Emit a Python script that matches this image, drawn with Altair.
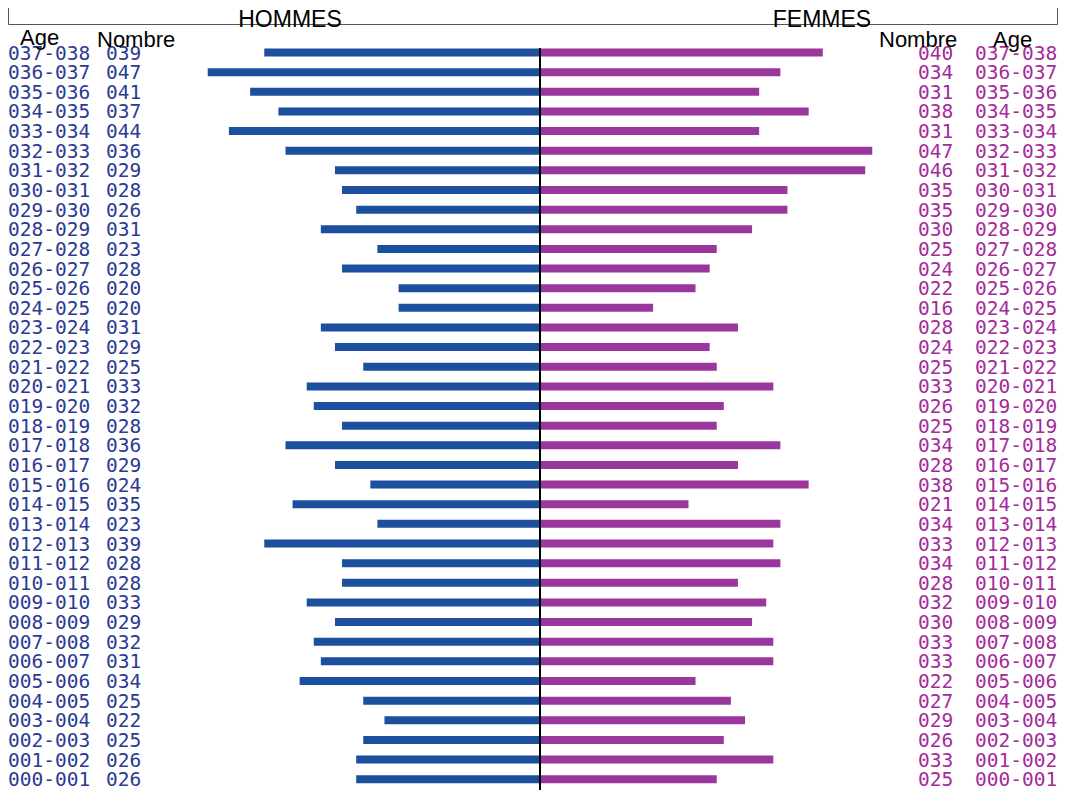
import altair as alt
import pandas as pd

# Age classes, top (oldest) to bottom
ages = ["037-038", "036-037", "035-036", "034-035", "033-034", "032-033",
        "031-032", "030-031", "029-030", "028-029", "027-028", "026-027",
        "025-026", "024-025", "023-024", "022-023", "021-022", "020-021",
        "019-020", "018-019", "017-018", "016-017", "015-016", "014-015",
        "013-014", "012-013", "011-012", "010-011", "009-010", "008-009",
        "007-008", "006-007", "005-006", "004-005", "003-004", "002-003",
        "001-002", "000-001"]
hommes = [39, 47, 41, 37, 44, 36, 29, 28, 26, 31, 23, 28, 20, 20, 31, 29, 25, 33, 32,
          28, 36, 29, 24, 35, 23, 39, 28, 28, 33, 29, 32, 31, 34, 25, 22, 25, 26, 26]
femmes = [40, 34, 31, 38, 31, 47, 46, 35, 35, 30, 25, 24, 22, 16, 28, 24, 25, 33, 26,
          25, 34, 28, 38, 21, 34, 33, 34, 28, 32, 30, 33, 33, 22, 27, 29, 26, 33, 25]

df = pd.DataFrame({
    "age": ages,
    "row": list(range(len(ages))),
    "hommes": hommes,
    "femmes": femmes,
})
df["hommes_neg"] = -df["hommes"]
df["zero"] = 0
df["h_lab"] = [f"{v:03d}" for v in hommes]
df["f_lab"] = [f"{v:03d}" for v in femmes]

W, H = 1050, 782
xscale = alt.Scale(domain=[-75.25, 73.27], nice=False, zero=False)
yscale = alt.Scale(domain=[-2.266, 37.55], nice=False, zero=False, reverse=True)

BLUE_BAR = "#1d4f9f"
PURPLE_BAR = "#9a379c"
BLUE_TXT = "#2b3a93"
PURPLE_TXT = "#a52a9a"

base = alt.Chart(df)

bars_h = base.mark_rule(strokeWidth=8, color=BLUE_BAR).encode(
    x=alt.X("zero:Q", scale=xscale, axis=None),
    x2="hommes_neg:Q",
    y=alt.Y("row:Q", scale=yscale, axis=None),
)
bars_f = base.mark_rule(strokeWidth=8, color=PURPLE_BAR).encode(
    x=alt.X("zero:Q", scale=xscale, axis=None),
    x2="femmes:Q",
    y=alt.Y("row:Q", scale=yscale, axis=None),
)

center = alt.Chart(pd.DataFrame({"x": [0], "y1": [-0.23], "y2": [37.7]})).mark_rule(
    color="black", strokeWidth=2
).encode(
    x=alt.X("x:Q", scale=xscale, axis=None),
    y=alt.Y("y1:Q", scale=yscale, axis=None),
    y2="y2:Q",
)

lab_font = dict(font="DejaVu Sans Mono", fontSize=19.5, baseline="middle", dy=1, align="left")

left_age = base.mark_text(color=BLUE_TXT, **lab_font).encode(
    x=alt.value(0), y=alt.Y("row:Q", scale=yscale, axis=None), text="age:N")
left_num = base.mark_text(color=BLUE_TXT, **lab_font).encode(
    x=alt.value(98), y=alt.Y("row:Q", scale=yscale, axis=None), text="h_lab:N")
right_num = base.mark_text(color=PURPLE_TXT, **lab_font).encode(
    x=alt.value(910), y=alt.Y("row:Q", scale=yscale, axis=None), text="f_lab:N")
right_age = base.mark_text(color=PURPLE_TXT, **lab_font).encode(
    x=alt.value(967), y=alt.Y("row:Q", scale=yscale, axis=None), text="age:N")

hdr_font = dict(font="Liberation Sans", color="black", baseline="alphabetic")

def hdr(txt, x, y, size, align="left"):
    return alt.Chart(pd.DataFrame({"t": [txt]})).mark_text(
        fontSize=size, align=align, **hdr_font
    ).encode(x=alt.value(x), y=alt.value(y), text="t:N")

headers = [
    hdr("HOMMES", 282, 19, 23, "center"),
    hdr("FEMMES", 814, 19, 23, "center"),
    hdr("Age", 12, 37, 22),
    hdr("Nombre", 89, 39, 22),
    hdr("Nombre", 871, 39, 22),
    hdr("Age", 985, 39, 22),
]

box_col = "#555555"
box = [
    alt.Chart(pd.DataFrame({"a": [0]})).mark_rule(color=box_col, strokeWidth=1).encode(
        x=alt.value(0.5), x2=alt.value(W - 0.5), y=alt.value(16.5)),
    alt.Chart(pd.DataFrame({"a": [0]})).mark_rule(color=box_col, strokeWidth=1).encode(
        x=alt.value(0.5), y=alt.value(0), y2=alt.value(16.5)),
    alt.Chart(pd.DataFrame({"a": [0]})).mark_rule(color=box_col, strokeWidth=1).encode(
        x=alt.value(W - 0.5), y=alt.value(0), y2=alt.value(16.5)),
]

chart = alt.layer(
    *box, bars_h, bars_f, center, left_age, left_num, right_num, right_age, *headers
).properties(
    width=W, height=H, padding=0, autosize=alt.AutoSizeParams(type="none")
).configure_view(stroke=None)

chart.save("out.html", embed_options={"renderer": "svg", "actions": False})
